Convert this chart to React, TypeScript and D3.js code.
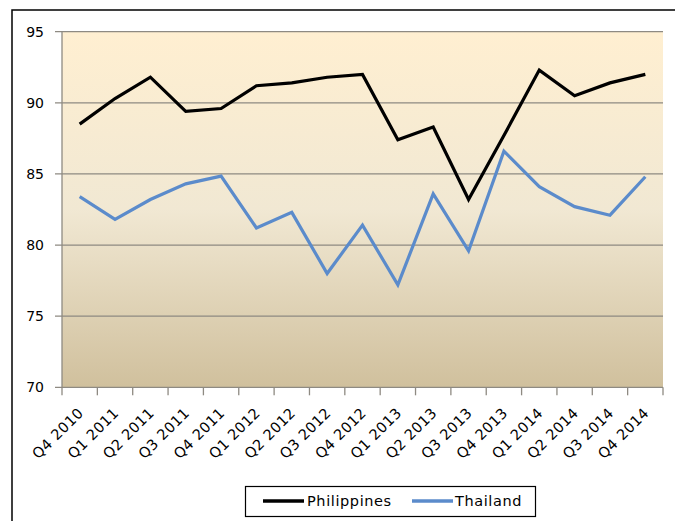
import React from "react";
import * as d3 from "d3";

const categories = ["Q4 2010","Q1 2011","Q2 2011","Q3 2011","Q4 2011","Q1 2012","Q2 2012","Q3 2012","Q4 2012","Q1 2013","Q2 2013","Q3 2013","Q4 2013","Q1 2014","Q2 2014","Q3 2014","Q4 2014"];
const philippines = [88.5, 90.3, 91.8, 89.4, 89.6, 91.2, 91.4, 91.8, 92.0, 87.4, 88.3, 83.2, 87.7, 92.3, 90.5, 91.4, 92.0];
const thailand = [83.4, 81.8, 83.2, 84.3, 84.85, 81.2, 82.3, 78.0, 81.4, 77.2, 83.6, 79.6, 86.6, 84.1, 82.7, 82.1, 84.8];
const yTicks = [70, 75, 80, 85, 90, 95];
const seriesNames = ["Philippines", "Thailand"];

const W = 675, H = 521;
const left = 62, right = 663, top = 31.7, bottom = 387.3;
const font = "'DejaVu Sans', Verdana, sans-serif";

export default function App() {
  const x = d3.scaleBand<string>().domain(categories).range([left, right]);
  const y = d3.scaleLinear().domain([70, 95]).range([bottom, top]);
  const line = d3.line<number>()
    .x((_, i) => (x(categories[i]) as number) + x.bandwidth() / 2)
    .y((d) => y(d));
  const tickXs = categories.map((c) => x(c) as number).concat([right]);
  return (
    <svg width={W} height={H} style={{ position: "absolute", left: 0, top: 0, background: "#fff" }}>
      <defs>
        <linearGradient id="bg" x1="0" y1="0" x2="0" y2="1">
          <stop offset="0%" stopColor="#FFEFD1" />
          <stop offset="50%" stopColor="#F1E8D3" />
          <stop offset="100%" stopColor="#D0C09D" />
        </linearGradient>
      </defs>
      <rect x={12} y={10} width={700} height={560} fill="#fff" stroke="#000" strokeWidth={1.5} />
      <rect x={left} y={top} width={right - left} height={bottom - top} fill="url(#bg)" />
      {yTicks.map((t) => (
        <g key={t}>
          <line x1={left - 7} x2={right} y1={y(t)} y2={y(t)} stroke="#8E8A82" strokeWidth={1.3} />
          <text x={44} y={y(t)} dy="0.35em" textAnchor="end" fontFamily={font} fontSize={14} fill="#000">{t}</text>
        </g>
      ))}
      <line x1={left} x2={left} y1={top} y2={bottom} stroke="#8E8A82" strokeWidth={1.3} />
      {tickXs.map((tx, i) => (
        <line key={i} x1={tx} x2={tx} y1={bottom} y2={bottom + 8} stroke="#8E8A82" strokeWidth={1.3} />
      ))}
      {categories.map((c) => {
        const cx = (x(c) as number) + x.bandwidth() / 2 + 1;
        const cy = bottom + 23;
        return (
          <text key={c} x={cx} y={cy} textAnchor="end" fontFamily={font} fontSize={14.5} letterSpacing={0.4}
            transform={`rotate(-45 ${cx} ${cy})`} dy="0.35em">{c}</text>
        );
      })}
      <path d={line(philippines) as string} fill="none" stroke="#000" strokeWidth={3.2} strokeLinejoin="miter" />
      <path d={line(thailand) as string} fill="none" stroke="#5B8BCB" strokeWidth={3.2} strokeLinejoin="miter" />
      <rect x={245.5} y={486.5} width={290} height={30} fill="#fff" stroke="#000" strokeWidth={1.2} />
      <line x1={263} x2={304} y1={501} y2={501} stroke="#000" strokeWidth={3.5} />
      <text x={307} y={501} dy="0.35em" fontFamily={font} fontSize={14.5} letterSpacing={0.6}>{seriesNames[0]}</text>
      <line x1={412} x2={453} y1={501} y2={501} stroke="#5B8BCB" strokeWidth={3.5} />
      <text x={455} y={501} dy="0.35em" fontFamily={font} fontSize={14.5} letterSpacing={0.6}>{seriesNames[1]}</text>
    </svg>
  );
}
